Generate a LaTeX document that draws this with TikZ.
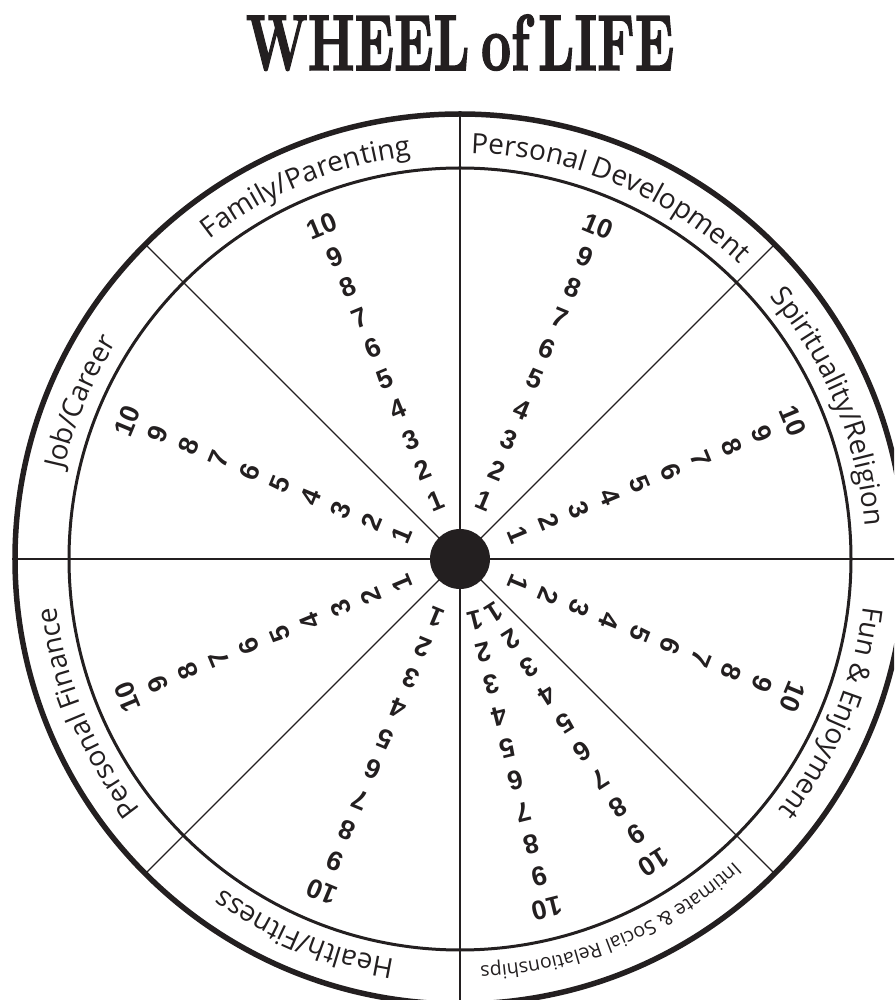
\documentclass[tikz,border=0pt]{standalone}
\usepackage{fontspec}
\usepackage{graphicx}
\usetikzlibrary{decorations.text}
\newfontfamily\ringfont{Open Sans}
\newfontfamily\digitfont{Liberation Sans}
\newfontfamily\headfont{lmroman10-bold.otf}[FakeBold=2]
\definecolor{ink}{RGB}{35,31,32}
\tikzset{
  rim/.style={draw=ink, line width=5.5pt},
  ring/.style={draw=ink, line width=3pt},
  spoke/.style={draw=ink, line width=1.3pt},
  score/.style={font=\digitfont\bfseries\fontsize{27}{27}\selectfont, text=ink, inner sep=0pt},
  area/.style 2 args={decorate, decoration={text along path, text align=center,
      text={|\ringfont\fontsize{#2}{#2}\selectfont\color{ink}|#1}}},
}

\begin{document}
\begin{tikzpicture}[x=1pt, y=1pt]
\path[use as bounding box, clip] (-460,-441) rectangle (434,559);

\node[anchor=base, text=ink, font=\headfont\fontsize{79}{79}\selectfont] (title) at (0,489)
  {\scalebox{0.66}[1]{WHEEL\hspace{.22em}of\hspace{.17em}LIFE}};

\foreach \a in {0,45,...,315}
  \draw[spoke] (0,0) -- (\a:445);
\draw[ring] (0,0) circle[radius=391];
\draw[rim] (0,0) circle[radius=445];
\node[circle, fill=ink, minimum size=60pt, inner sep=0pt] (hub) at (0,0) {};

\path[area={Family/Parenting}{28}] (135:406) arc[start angle=135, end angle=90, radius=406];
\path[area={Personal Development}{28}] (90:406) arc[start angle=90, end angle=45, radius=406];
\path[area={Spirituality/Religion}{28}] (45:406) arc[start angle=45, end angle=0, radius=406];
\path[area={Fun {\&} Enjoyment}{28}] (0:406) arc[start angle=0, end angle=-45, radius=406];
\path[area={Intimate {\&} Social Relationships}{19.5}] (-45:408) arc[start angle=-45, end angle=-90, radius=408];
\path[area={Health/Fitness}{28}] (-90:406) arc[start angle=-90, end angle=-135, radius=406];
\path[area={Personal Finance}{28}] (-135:406) arc[start angle=-135, end angle=-180, radius=406];
\path[area={Job/Career}{28}] (180:406) arc[start angle=180, end angle=135, radius=406];

\foreach \a [count=\i] in {112.5,67.5,22.5,-22.5,-57.5,-76,-112.5,-157.5,157.5}
  \foreach \k in {1,...,10}
    \node[score, rotate=\a-90] (s\i-\k) at (\a:{30+33*\k}) {\k};

\end{tikzpicture}
\end{document}
